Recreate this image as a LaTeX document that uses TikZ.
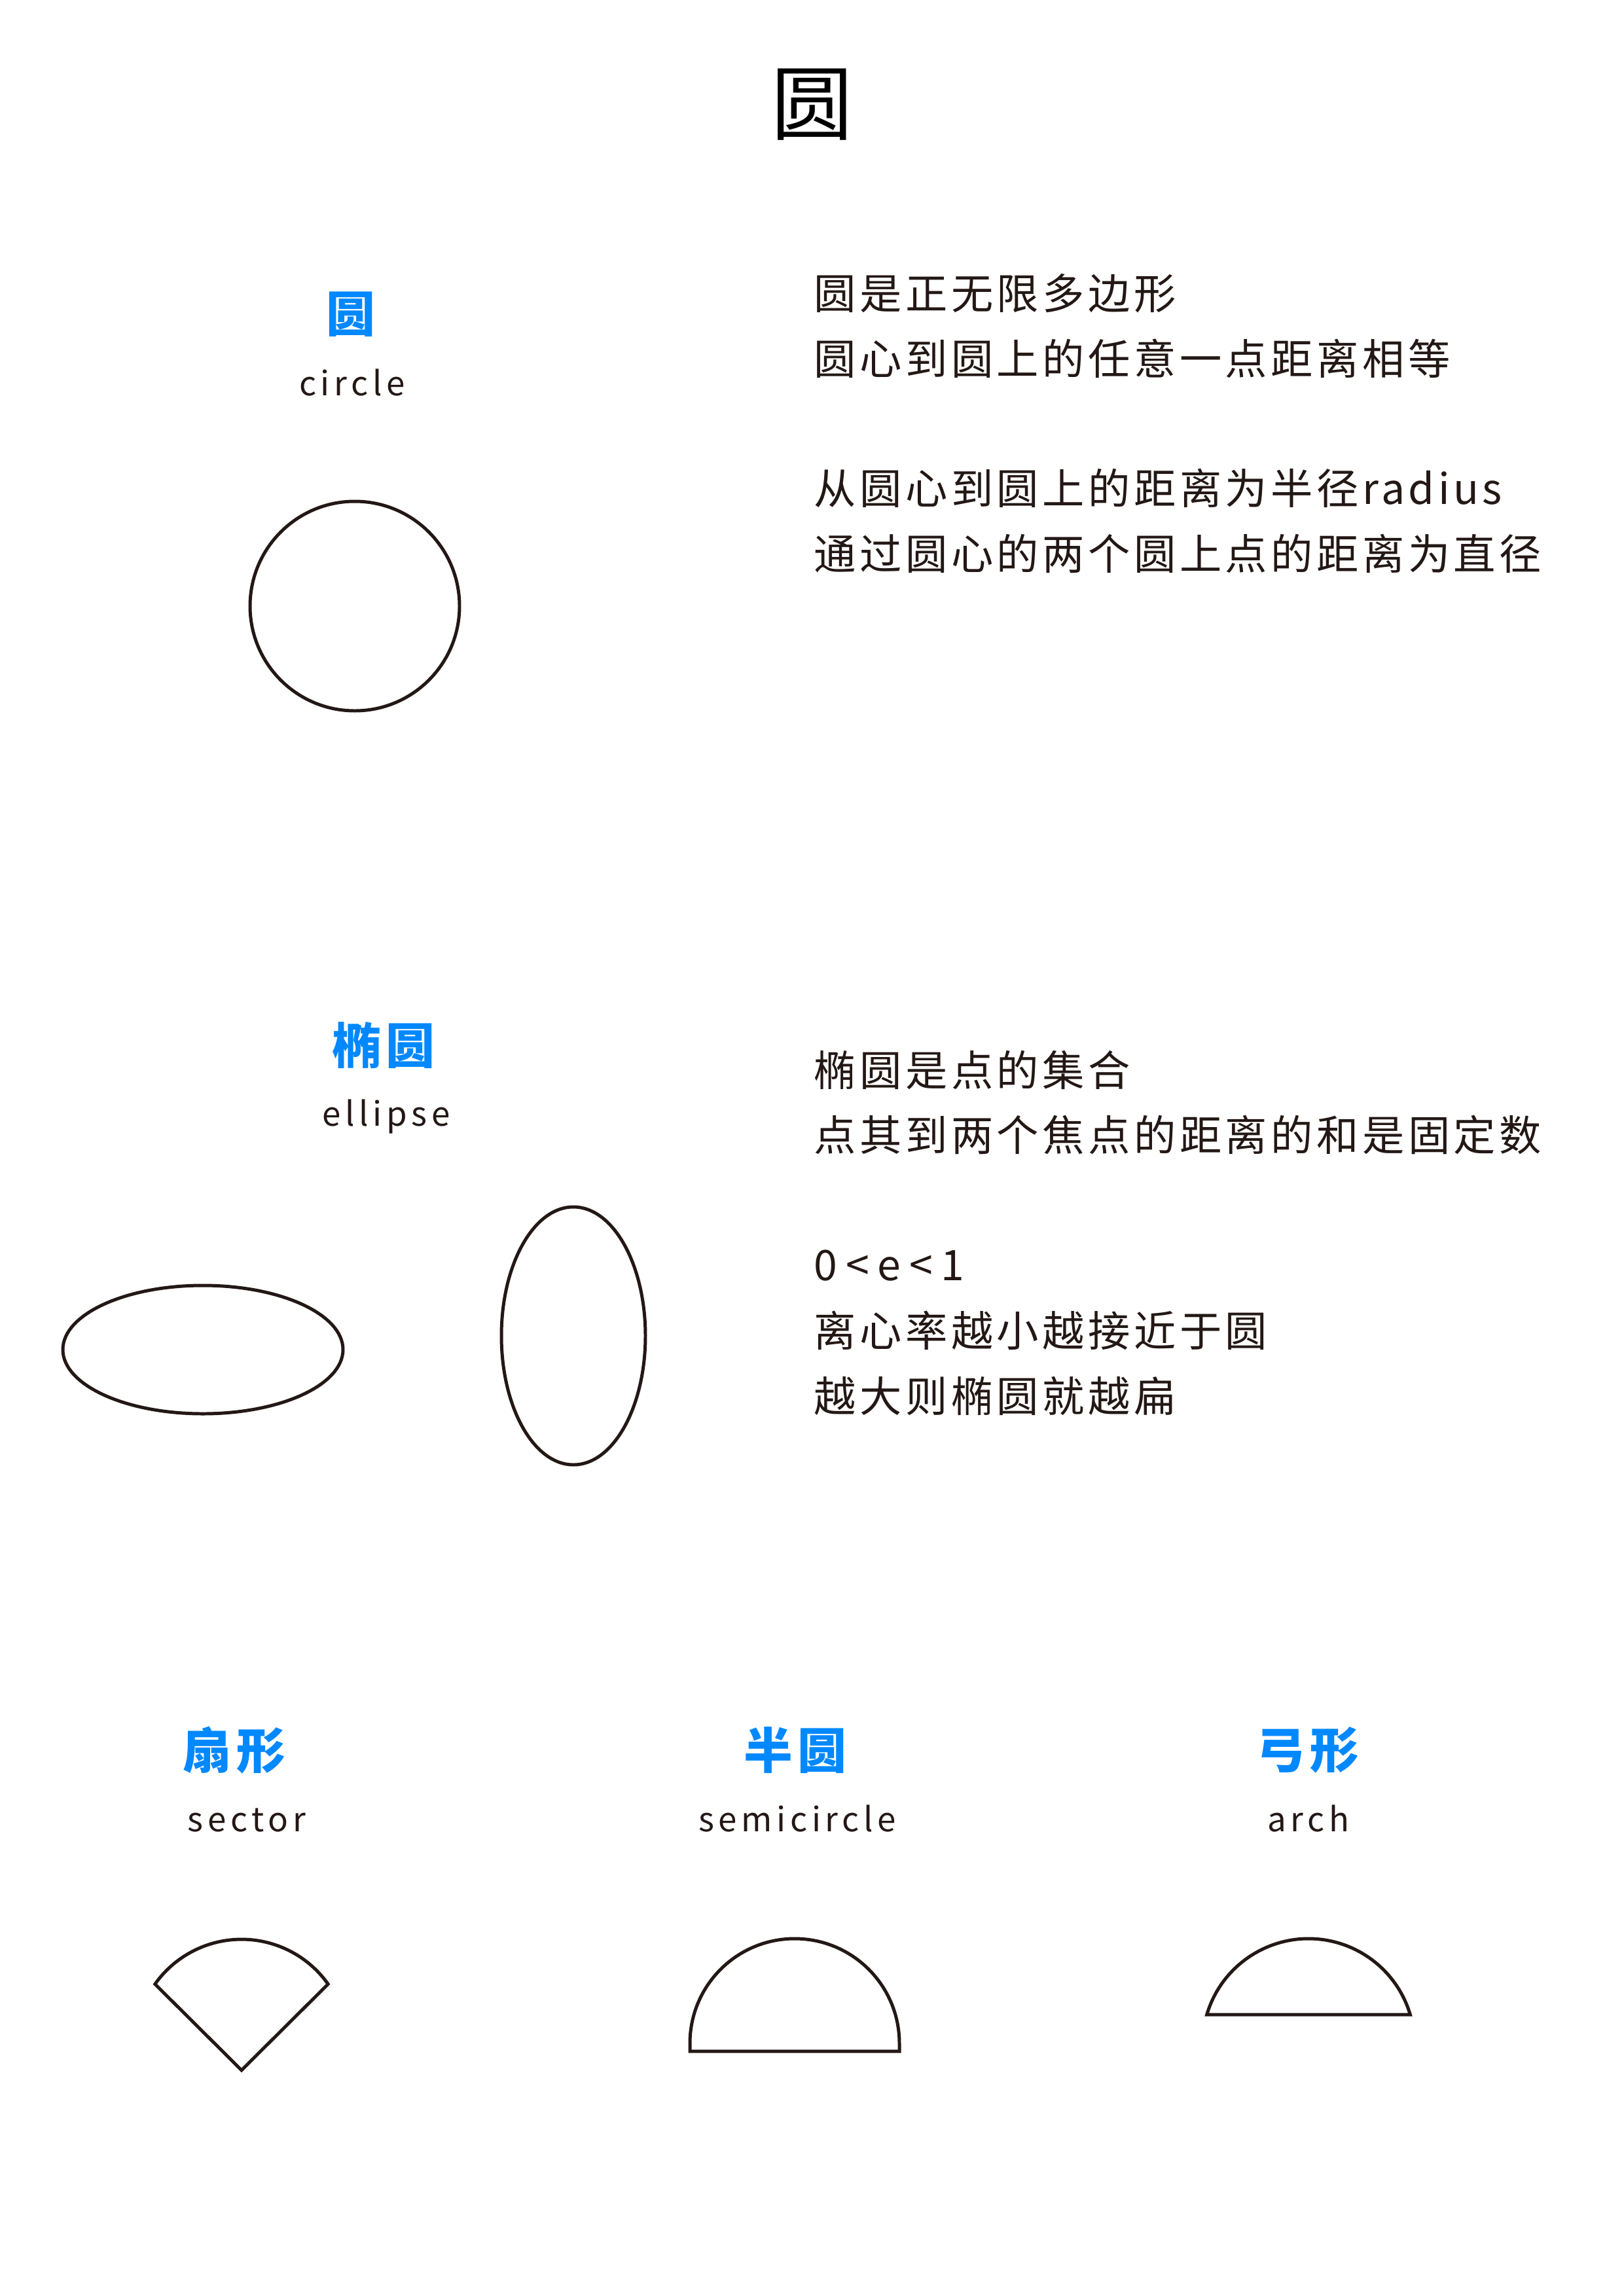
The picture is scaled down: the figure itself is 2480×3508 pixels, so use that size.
\documentclass[tikz,border=0pt]{standalone}
\usepackage{fontspec}
\usepackage{xcolor}
\usepackage{tikz}
\usetikzlibrary{positioning}
\newfontfamily\titlefont{Noto Sans CJK SC}
\newfontfamily\headfont{Noto Sans CJK SC}[LetterSpace=10]
\newfontfamily\bodyfont{Noto Sans CJK SC}[LetterSpace=8.5]
\newfontfamily\labelfont{Noto Sans CJK SC}[LetterSpace=13]
\definecolor{inkdark}{RGB}{35, 24, 21}
\definecolor{circblue}{RGB}{0, 136, 255}
\tikzset{
  titletxt/.style={font=\titlefont\fontsize{30}{30}\selectfont,text=black,inner sep=0pt},
  headtxt/.style={font=\headfont\bfseries\fontsize{18}{18}\selectfont,text=circblue,inner sep=0pt},
  labeltxt/.style={font=\labelfont\fontsize{12.3}{12.3}\selectfont,text=inkdark,inner sep=0pt,anchor=base},
  bodytxt/.style={font=\bodyfont\fontsize{15.5}{24}\selectfont,text=inkdark,inner sep=0pt,anchor=base west},
  shapeline/.style={draw=inkdark,line width=1.2pt},
}
\newcommand\gapsym{\kern.2em}

\begin{document}
\begin{tikzpicture}[x=0.0084677cm,y=-0.0084677cm]
  \useasboundingbox[fill=white] (0,0) rectangle (2480,3508);
  \node[titletxt] (title) at (1241,160) {圆};

  % circle
  \node[headtxt] (hcircle) at (536,480) {圆};
  \node[labeltxt] (lcircle) at (538,604) {circle};
  \draw[shapeline] (542,926) circle [radius=160];
  \node[bodytxt] (c1) at (1243,472) {圆是正无限多边形};
  \node[bodytxt] (c2) at (1243,572) {圆心到圆上的任意一点距离相等};
  \node[bodytxt] (c3) at (1243,770) {从圆心到圆上的距离为半径radius};
  \node[bodytxt] (c4) at (1243,870) {通过圆心的两个圆上点的距离为直径};

  % ellipse
  \node[headtxt] (hellipse) at (586,1597) {椭圆};
  \node[labeltxt] (lellipse) at (590,1720) {ellipse};
  \draw[shapeline] (310,2062) ellipse [x radius=214,y radius=98];
  \draw[shapeline] (876,2041) ellipse [x radius=110,y radius=197];
  \node[bodytxt] (e1) at (1243,1659) {椭圆是点的集合};
  \node[bodytxt] (e2) at (1243,1758) {点其到两个焦点的距离的和是固定数};
  \node[bodytxt] (e3) at (1243,1956) {0\gapsym<\gapsym e\gapsym<\gapsym 1};
  \node[bodytxt] (e4) at (1243,2057) {离心率越小越接近于圆};
  \node[bodytxt] (e5) at (1243,2157) {越大则椭圆就越扁};

  % sector, semicircle, arch
  \node[headtxt] (hsector) at (358,2674) {扇形};
  \node[labeltxt] (lsector) at (377,2798) {sector};
  \coordinate (sapex) at (369,3163);
  \coordinate (sleft) at (236.8,3031.4);
  \draw[shapeline] (sapex) -- (sleft) arc [start angle=-144.7,end angle=-35.3,radius=162] -- cycle;

  \node[headtxt] (hsemi) at (1215,2674) {半圆};
  \node[labeltxt] (lsemi) at (1218,2798) {semicircle};
  \coordinate (mleft) at (1054,3134);
  \draw[shapeline] (mleft) -- (1054,3122) arc [start angle=-180,end angle=0,radius=160] -- (1374,3134) -- cycle;

  \node[headtxt] (harch) at (1998,2674) {弓形};
  \node[labeltxt] (larch) at (1999,2798) {arch};
  \coordinate (aleft) at (1843.7,3078);
  \draw[shapeline] (aleft) arc [start angle=-163.5,end angle=-16.5,radius=162] -- cycle;
\end{tikzpicture}
\end{document}
